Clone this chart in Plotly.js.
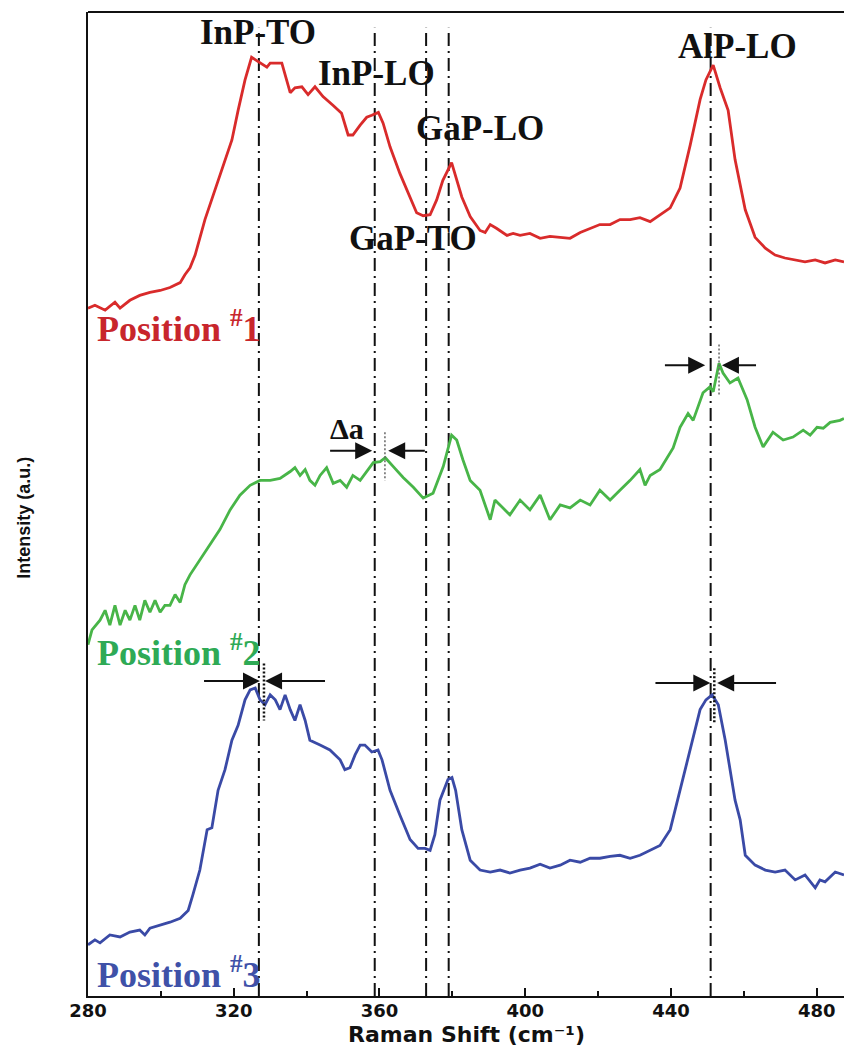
<!DOCTYPE html>
<html>
<head>
<meta charset="utf-8">
<script src="https://cdn.plot.ly/plotly-3.0.1.min.js"></script>
<style>html,body{margin:0;padding:0;background:#fff;}#chart{width:844px;height:1048px;}</style>
</head>
<body>
<div id="chart"></div>
<script>
// Raman shift (cm^-1) and intensity (a.u., offset stacked as displayed)
const pos1_x = [280.0,281.9,284.7,287.4,288.8,291.5,294.2,297.0,299.8,302.5,305.3,306.6,308.0,309.4,312.1,314.9,317.6,319.5,321.2,323.1,324.9,327.2,329.1,330.0,333.2,335.5,336.8,338.7,340.4,342.3,344.5,347.3,349.6,351.4,352.7,354.7,356.5,357.9,359.7,361.0,362.9,365.6,368.4,370.2,372.0,373.9,375.7,377.4,379.8,380.7,382.6,384.9,387.6,389.0,390.4,392.2,395.0,396.7,398.6,401.3,404.1,406.8,409.6,412.3,415.1,417.8,420.5,423.3,426.0,428.8,431.5,434.3,437.0,439.8,442.5,445.3,448.0,449.6,451.6,453.5,455.7,457.6,460.4,463.1,465.9,468.6,471.3,474.1,476.8,479.6,482.3,485.1,487.5];
const pos1_y = [69.9,70.2,69.7,70.5,69.9,70.7,71.2,71.5,71.7,72.0,72.5,73.3,74.0,75.3,78.9,81.9,85.0,87.0,90.0,93.1,95.4,94.9,94.4,94.8,94.8,91.8,92.3,92.4,91.6,92.4,91.4,90.5,89.7,87.5,87.5,88.5,89.3,89.5,89.8,88.7,86.3,83.6,81.2,79.6,79.3,79.4,80.9,82.9,84.7,83.6,81.2,79.2,77.8,77.6,78.4,78.0,77.3,77.5,77.3,77.5,77.0,77.2,77.1,77.0,77.6,78.0,78.4,78.4,78.9,78.9,79.1,78.7,79.4,80.1,82.1,86.5,91.1,93.1,94.6,92.3,90.0,85.0,79.9,77.1,76.0,75.3,75.0,74.8,74.6,74.8,74.5,74.8,74.6];

const pos2_x = [280.0,281.1,283.3,284.7,286.0,287.4,288.8,290.2,291.5,292.9,294.2,295.6,297.0,298.4,299.8,301.1,302.5,303.9,305.3,306.6,308.0,310.7,313.5,316.2,319.0,321.7,324.5,327.2,330.0,332.7,335.5,336.8,338.2,339.6,340.9,342.3,343.7,345.5,347.3,349.2,351.0,352.7,354.7,356.9,358.3,360.2,361.6,363.8,366.5,369.3,372.0,374.7,377.5,379.8,381.2,382.9,384.9,387.6,390.4,391.7,393.1,395.8,398.6,401.3,404.1,406.8,409.6,412.3,415.1,417.8,420.5,423.3,426.0,428.8,431.5,432.9,434.3,437.0,440.6,442.5,444.7,446.1,448.8,450.7,451.6,453.2,454.3,456.2,458.4,460.9,463.1,465.3,468.0,470.8,473.5,476.3,478.2,480.1,481.8,483.7,486.4,487.5];
const pos2_y = [35.7,37.2,38.2,39.2,37.7,39.7,37.7,39.2,38.2,39.7,38.2,40.2,39.0,40.2,39.0,39.7,39.7,40.8,40.0,41.8,42.8,44.3,45.8,47.4,49.4,50.9,51.9,52.4,52.4,52.6,53.3,53.7,52.9,53.5,52.4,51.9,52.9,53.7,52.1,52.4,51.7,52.9,52.4,53.5,54.2,54.3,54.7,53.8,52.7,51.7,50.6,51.1,53.8,57.0,56.5,54.5,52.4,51.4,48.4,50.4,49.9,48.9,50.4,49.4,50.9,48.4,49.9,49.6,50.4,49.9,51.4,50.4,51.4,52.4,53.5,51.9,52.9,53.5,55.7,57.8,59.2,58.5,61.3,61.9,61.4,64.3,63.3,62.3,62.8,60.6,57.8,55.8,57.3,56.5,56.8,57.5,57.0,57.8,57.7,58.3,58.5,58.7];

const pos3_x = [280.0,281.9,283.3,286.0,288.8,291.5,294.2,295.6,297.0,299.8,302.5,305.3,307.5,308.8,310.7,312.7,314.0,315.7,317.6,319.5,321.2,323.1,324.5,325.9,327.2,328.6,330.0,331.4,332.7,334.1,335.5,336.8,338.2,339.6,340.9,343.7,346.4,349.2,350.5,351.9,353.3,354.7,356.0,357.9,359.6,360.7,362.9,365.6,368.4,370.6,372.5,373.9,375.2,376.6,378.8,379.9,380.9,382.6,384.9,387.6,390.4,393.1,395.8,398.6,401.3,404.1,406.8,409.6,412.3,415.1,417.8,420.5,423.3,426.0,428.8,431.5,434.3,437.0,439.8,442.5,445.3,448.0,449.6,451.3,453.0,454.9,457.6,459.0,460.4,463.1,465.9,468.6,471.3,474.1,476.8,479.6,480.9,482.3,485.1,487.5];
const pos3_y = [5.2,5.7,5.4,6.2,6.0,6.5,6.7,6.2,6.9,7.2,7.5,7.9,8.7,10.3,12.8,16.9,17.1,20.9,23.0,26.0,27.5,30.1,31.1,31.3,30.1,29.6,30.6,30.1,29.1,30.6,29.1,28.0,29.6,28.0,26.0,25.5,25.0,24.0,23.0,23.2,24.5,25.5,25.5,24.8,25.0,24.0,20.9,18.4,15.9,15.0,15.0,14.8,16.4,19.9,22.0,22.2,20.9,16.9,13.8,12.8,12.6,12.8,12.5,12.8,13.0,13.4,13.0,13.3,13.8,13.6,14.0,14.0,14.2,14.3,14.0,14.3,14.8,15.3,16.9,20.9,25.0,29.1,30.1,30.6,29.6,26.0,19.9,17.9,14.3,13.3,12.8,12.6,12.8,11.8,12.3,11.0,11.8,11.6,12.6,12.3];

// Peak assignments (cm^-1)
const peakNames = ["InP-TO","InP-LO","GaP-TO","GaP-LO","AlP-LO"];
const peakPos = [326.9, 358.7, 372.8, 379.0, 450.9];
const seriesNames = ["Position <sup>#</sup>1","Position <sup>#</sup>2","Position <sup>#</sup>3"];
const xTicks = [280,320,360,400,440,480];
// Shifted peak markers (cm^-1)
const shiftMarks = [361.5, 453.2, 328.3, 451.9];

const colors = ["#d92b2b","#48b548","#3a4aa6"];
const labelColors = ["#c8262c","#2eaa55","#3f51a8"];

const traces = [
  {x: pos1_x, y: pos1_y, mode:"lines", line:{color:colors[0], width:2.8}, name:"Position #1"},
  {x: pos2_x, y: pos2_y, mode:"lines", line:{color:colors[1], width:2.8}, name:"Position #2"},
  {x: pos3_x, y: pos3_y, mode:"lines", line:{color:colors[2], width:2.8}, name:"Position #3"}
];

const shapes = [];
peakPos.forEach(p => shapes.push({type:"line", xref:"x", yref:"y", x0:p, x1:p, y0:0, y1:98.4,
  line:{color:"#111", width:2, dash:"13px,5px,2px,5px"}, layer:"below"}));
// dotted short markers
const dotSpans = [[57.3,52.4],[66.2,61.1],[33.8,28.0],[33.3,27.7]];
const dotCols = ["#666","#666","#111","#111"];
shiftMarks.forEach((m,i) => shapes.push({type:"line", xref:"x", yref:"y", x0:m, x1:m, y0:dotSpans[i][0], y1:dotSpans[i][1],
  line:{color:dotCols[i], width:i<2?1.5:2.5, dash:"2px,2px"}}));
// top frame
shapes.push({type:"line", xref:"paper", yref:"paper", x0:0, x1:1, y0:1, y1:1, line:{color:"#111", width:2}});

const serif = "Liberation Serif, Times New Roman, serif";
const wide = "DejaVu Sans, Verdana, sans-serif";
const ann = [];
const peakLabelPos = [[326.7,97.9],[359.3,93.7],[369.2,77.0],[387.6,88.2],[458.2,96.5]];
peakNames.forEach((n,i) => ann.push({x:peakLabelPos[i][0], y:peakLabelPos[i][1], xref:"x", yref:"y", text:n, showarrow:false,
  xanchor:"center", yanchor:"middle", font:{family:serif, size:35, color:"#111", weight:"bold"}}));
const posLabelY = [68.0, 35.1, 2.4];
seriesNames.forEach((n,i) => ann.push({x:281.8, y:posLabelY[i], xref:"x", yref:"y", text:n, showarrow:false,
  xanchor:"left", yanchor:"middle", font:{family:serif, size:36, color:labelColors[i], weight:"bold"}}));
ann.push({x:351.1, y:57.7, xref:"x", yref:"y", text:"Δa", showarrow:false, xanchor:"center", yanchor:"middle",
  font:{family:serif, size:30, color:"#111", weight:"bold"}});
// arrows: [tailX, headX, y]
const arrows = [[345.9,358.0,55.4],[373.0,362.4,55.4],[437.8,449.4,64.1],[463.9,454.0,64.1],
                [311.3,327.2,32.0],[345.6,328.6,32.0],[435.2,450.8,31.8],[469.4,452.7,31.8]];
arrows.forEach(a => ann.push({x:a[1], y:a[2], ax:a[0], ay:a[2], xref:"x", yref:"y", axref:"x", ayref:"y",
  text:" ", showarrow:true, arrowhead:2, arrowsize:1.7, arrowwidth:2, arrowcolor:"#111", font:{size:2}}));
// axis titles
ann.push({x:0.50, y:-0.0396, xref:"paper", yref:"paper", text:"Raman Shift (cm⁻¹)", showarrow:false,
  xanchor:"center", yanchor:"middle", font:{family:wide, size:22, color:"#111", weight:"bold"}});
ann.push({x:-0.0847, y:0.486, xref:"paper", yref:"paper", text:"Intensity (a.u.)", showarrow:false, textangle:-90,
  xanchor:"center", yanchor:"middle", font:{family:"Liberation Sans Narrow, Arial Narrow, Liberation Sans, sans-serif", size:18, color:"#111", weight:"bold"}});

const layout = {
  width:844, height:1048,
  margin:{l:88, r:0, t:12, b:52},
  paper_bgcolor:"#fff", plot_bgcolor:"#fff",
  showlegend:false,
  xaxis:{range:[280,487.5], tickvals:xTicks, ticktext:xTicks.map(String), ticks:"inside", ticklen:8, tickwidth:2, tickcolor:"#111",
    minor:{tickvals:[300,340,380,420,460], ticks:"inside", ticklen:5, tickwidth:2, tickcolor:"#111"},
    ticklabelstandoff:-3,
    showline:true, linewidth:2, linecolor:"#111", showgrid:false, zeroline:false,
    tickfont:{family:wide, size:18, color:"#111", weight:"bold"}},
  yaxis:{range:[0,100], showticklabels:false, ticks:"", showline:true, linewidth:2, linecolor:"#111", showgrid:false, zeroline:false},
  shapes:shapes, annotations:ann
};
Plotly.newPlot("chart", traces, layout, {displayModeBar:false, staticPlot:true});
</script>
</body>
</html>
